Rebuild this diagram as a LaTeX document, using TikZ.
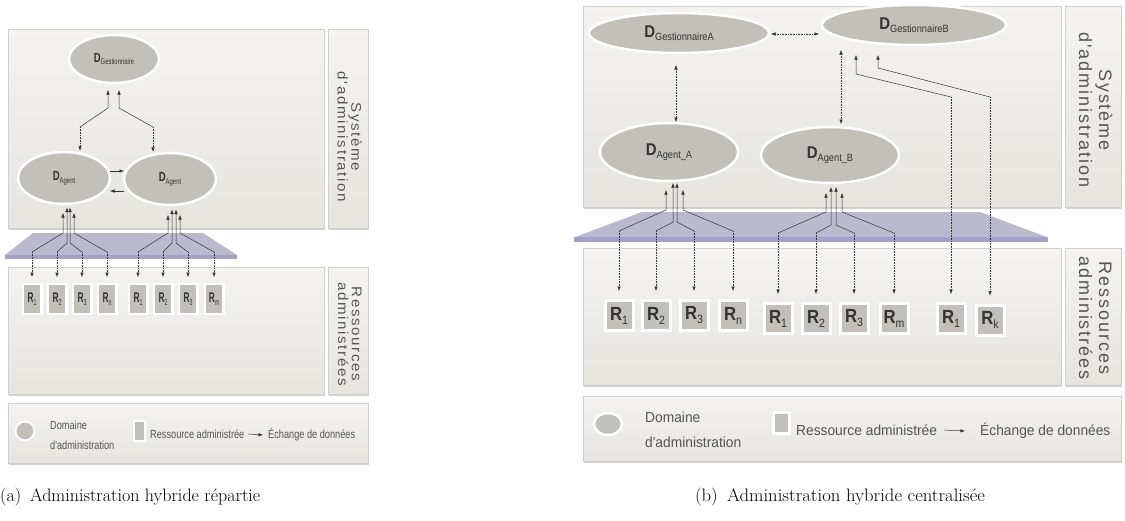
\documentclass[tikz,border=0pt]{standalone}
\usepackage{graphicx}
\usepackage{fontspec}
\usetikzlibrary{shapes.geometric,shadows,arrows.meta}
\newfontfamily\af{Liberation Sans}
\newfontfamily\afn[FakeStretch=0.88]{Liberation Sans}
\newfontfamily\afl[FakeStretch=0.78]{Liberation Sans}
\newfontfamily\afr[FakeStretch=0.95]{Liberation Sans}
\newfontfamily\afs[LetterSpace=11]{Liberation Sans}
\definecolor{panelA}{HTML}{F4F3F0}
\definecolor{panelB}{HTML}{E6E4DF}
\definecolor{panelE}{HTML}{D2CFC8}
\definecolor{domc}{HTML}{C3C0B9}
\definecolor{planec}{HTML}{BAB9CD}
\definecolor{stripc}{HTML}{A3A1CB}
\definecolor{txtc}{HTML}{555555}
\definecolor{labc}{HTML}{333333}
\newcommand{\Dlab}[1]{{\afn\fontsize{17}{17}\selectfont\bfseries D}{\afn\fontsize{10.5}{10.5}\selectfont\raisebox{-3.5pt}{#1}}}
\newcommand{\Rlab}[1]{{\afn\fontsize{19}{19}\selectfont\bfseries R}{\afn\fontsize{12}{12}\selectfont\raisebox{-4pt}{#1}}}
\newcommand{\twoline}[2]{\begin{tabular}{@{}c@{}}#1\\#2\end{tabular}}
\tikzset{
  panel/.style={draw=panelE, line width=0.8pt, top color=panelA, bottom color=panelB,
    drop shadow={shadow xshift=0.6pt, shadow yshift=-1.6pt, opacity=0.35}},
  dom/.style={ellipse, fill=domc, draw=white, line width=2.5pt, inner sep=0pt, text=labc,
    drop shadow={shadow xshift=0.5pt, shadow yshift=-1pt, opacity=0.35}},
  res/.style={rectangle, fill=domc, draw=white, line width=3pt, inner sep=0pt,
    minimum width=28pt, minimum height=30pt, text=labc,
    drop shadow={shadow xshift=0.5pt, shadow yshift=-1pt, opacity=0.35}},
  resl/.style={res, line width=2.4pt, minimum width=18.6pt, minimum height=29.6pt},
  arr/.style={line width=0.5pt, draw=black!80, -{Latex[length=4.5pt,width=3.5pt]}},
  darr/.style={line width=0.5pt, draw=black!80, {Latex[length=4.5pt,width=3.5pt]}-{Latex[length=4.5pt,width=3.5pt]}},
  dotl/.style={dash pattern=on 0.8pt off 0.8pt},
  side/.style={rotate=-90, text=txtc, inner sep=0pt, font=\afs\fontsize{18}{20}\selectfont},
  legl/.style={text=txtc, anchor=west, inner sep=0pt, font=\afl\fontsize{11.8}{12}\selectfont},
  legr/.style={text=txtc, anchor=west, inner sep=0pt, font=\afr\fontsize{14.5}{15}\selectfont},
  capt/.style={inner sep=0pt, font=\fontsize{18}{18}\selectfont},
}
\begin{document}
\begin{tikzpicture}[x=1pt,y=-1pt]
\useasboundingbox (0,0) rectangle (1125,520);
\fill[white] (0,0) rectangle (1125,520);

% ================= LEFT (a) =================
\draw[panel] (8,29) rectangle (324,228);
\draw[panel] (328,29) rectangle (368,228);
\fill[planec] (33,233) -- (203,233) -- (237,255) -- (5,255) -- cycle;
\fill[stripc] (5,254.5) rectangle (237,259);
\draw[panel] (8,267) rectangle (324,394);
\draw[panel] (328,267) rectangle (368,394);
\draw[panel] (8,403) rectangle (368,463);

\node[side] (lS1) at (348,137) {\scalebox{0.84}[0.78]{\fontsize{18}{15}\selectfont\twoline{Système}{d'administration}}};
\node[side] (lS2) at (348,334) {\scalebox{0.84}[0.78]{\fontsize{18}{15}\selectfont\twoline{Ressources}{administrées}}};

\node[dom, minimum width=90pt, minimum height=48pt] (lG) at (114,59) {\scalebox{0.64}[0.78]{\Dlab{Gestionnaire}}};
\node[dom, minimum width=92pt, minimum height=52pt] (lA1) at (64,178) {\scalebox{0.64}[0.78]{\Dlab{Agent}}};
\node[dom, minimum width=92pt, minimum height=52pt] (lA2) at (170,179) {\scalebox{0.64}[0.78]{\Dlab{Agent}}};

\foreach \n/\x/\s in {1/32/1, 2/57/2, 3/82/3, 4/107/n, 5/138/1, 6/163/2, 7/188/3, 8/214/m}
  \node[resl] (lR\n) at (\x,299) {\scalebox{0.5}[0.74]{\Rlab{\s}}};

% gestionnaire <-> agents
\draw[arr] (80,127) -- (108,108) -- (108,90);
\draw[arr,dotl] (80,127) -- (lA1.north -| 80,0);
\draw[arr] (153,127) -- (119,108) -- (119,90);
\draw[arr,dotl] (153,127) -- (lA2.north -| 153,0);
% agent <-> agent
\draw[arr] (110,171) -- (124,171);
\draw[arr] (124,191) -- (110,191);
% agent 1 to resources
\draw[arr] (32,252) -- (63,233) -- (63,213);
\draw[arr] (57,252) -- (67,243) -- (67,207.5);
\draw[arr] (82,252) -- (70,243) -- (70,207.5);
\draw[arr] (107,252) -- (74,233) -- (74,213);
% agent 2 to resources
\draw[arr] (138,252) -- (168,233) -- (168,215);
\draw[arr] (163,252) -- (172,243) -- (172,209.5);
\draw[arr] (188,252) -- (176,243) -- (176,209.5);
\draw[arr] (214,252) -- (180,233) -- (180,215);
\foreach \n/\x in {1/32, 2/57, 3/82, 4/107, 5/138, 6/163, 7/188, 8/214}
  \draw[arr,dotl] (\x,252) -- ([yshift=6pt]lR\n.north);

% legend (a)
\node[circle, fill=domc, draw=white, line width=2pt, minimum size=19pt, inner sep=0pt,
  drop shadow={shadow xshift=0.5pt, shadow yshift=-1pt, opacity=0.35}] (lLc) at (25,431) {};
\node[legl] (lLd1) at (50,425) {Domaine};
\node[legl] (lLd2) at (50,445) {d'administration};
\node[rectangle, fill=domc, draw=white, line width=2pt, minimum width=11pt, minimum height=20pt, inner sep=0pt,
  drop shadow={shadow xshift=0.5pt, shadow yshift=-1pt, opacity=0.35}] (lLs) at (139.5,431) {};
\node[legl] (lLr) at (150,434) {Ressource administrée};
\node[legl] (lLx) at (268,435) {Échange de données};
\draw[arr] (248,434) -- (lLx.west -| 263,0);

\node[capt, anchor=west] (capA) at (0,497) {\resizebox*{260pt}{18pt}{(a)\hspace{0.5em}Administration hybride répartie}};

% ================= RIGHT (b) =================
\draw[panel] (583,6) rectangle (1061,207);
\draw[panel] (1065,6) rectangle (1121,207);
\fill[planec] (642,212) -- (980,212) -- (1048,237.5) -- (574,237.5) -- cycle;
\fill[stripc] (574,237) rectangle (1048,242);
\draw[panel] (583,248) rectangle (1061,385);
\draw[panel] (1065,248) rectangle (1121,385);
\draw[panel] (583,396) rectangle (1121,461);

\node[side] (rS1) at (1093,110) {\twoline{Système}{d'administration}};
\node[side] (rS2) at (1093,318) {\twoline{Ressources}{administrées}};

\node[dom, minimum width=180pt, minimum height=40pt] (rGA) at (679,33) {\Dlab{GestionnaireA}};
\node[dom, minimum width=184pt, minimum height=40pt] (rGB) at (914,25) {\Dlab{GestionnaireB}};
\node[dom, minimum width=138pt, minimum height=58pt] (rAA) at (669,152) {\Dlab{Agent\_A}};
\node[dom, minimum width=138pt, minimum height=56pt] (rAB) at (830,155) {\Dlab{Agent\_B}};

\foreach \n/\x/\y/\s in {1/619/315.5/1, 2/656/315.5/2, 3/694/315.5/3, 4/733/315.5/n,
                         5/778/318.5/1, 6/816/318.5/2, 7/854/318.5/3, 8/894/318.5/m,
                         9/951/318.5/1, 10/990/320/k}
  \node[res] (rR\n) at (\x,\y) {\Rlab{\s}};

% gestionnaires
\draw[darr,dotl] (771,34) -- (819,34);
\draw[darr,dotl] (676,65) -- (676,122);
\draw[darr,dotl] (841,50) -- (841,124);
% direct links from gestionnaire B
\draw[arr] (951,97) -- (856,74) -- (856,55);
\draw[arr,dotl] (951,97) -- ([yshift=8pt]rR9.north);
\draw[arr] (990,97) -- (878,68) -- (878,55);
\draw[arr,dotl] (990,97) -- ([yshift=8pt]rR10.north);
% agent A to resources
\draw[arr] (619,231) -- (666,210) -- (666,190);
\draw[arr] (656,231) -- (673,222) -- (673,183);
\draw[arr] (694,231) -- (677,222) -- (677,183);
\draw[arr] (733,231) -- (683,210) -- (683,190);
% agent B to resources
\draw[arr] (778,233) -- (826,212) -- (826,193);
\draw[arr] (816,233) -- (831,225) -- (831,187);
\draw[arr] (854,233) -- (836,225) -- (836,187);
\draw[arr] (894,233) -- (842,212) -- (842,193);
\foreach \n/\x/\y in {1/619/231, 2/656/231, 3/694/231, 4/733/231, 5/778/233, 6/816/233, 7/854/233, 8/894/233}
  \draw[arr,dotl] (\x,\y) -- ([yshift=8pt]rR\n.north);

% legend (b)
\node[ellipse, fill=domc, draw=white, line width=2.5pt, minimum width=28pt, minimum height=22pt, inner sep=0pt,
  drop shadow={shadow xshift=0.5pt, shadow yshift=-1pt, opacity=0.35}] (rLe) at (608,424) {};
\node[legr] (rLd1) at (645,417) {Domaine};
\node[legr] (rLd2) at (645,442) {d'administration};
\node[rectangle, fill=domc, draw=white, line width=3pt, minimum width=16pt, minimum height=21pt, inner sep=0pt,
  drop shadow={shadow xshift=0.5pt, shadow yshift=-1pt, opacity=0.35}] (rLs) at (781.5,423) {};
\node[legr] (rLr) at (796,430) {Ressource administrée};
\node[legr] (rLx) at (980,431) {Échange de données};
\draw[arr] (944,430) -- (rLx.west -| 965,0);

\node[capt] (capB) at (840,497) {\resizebox*{290pt}{18pt}{(b)\hspace{0.5em}Administration hybride centralisée}};
\end{tikzpicture}
\end{document}
